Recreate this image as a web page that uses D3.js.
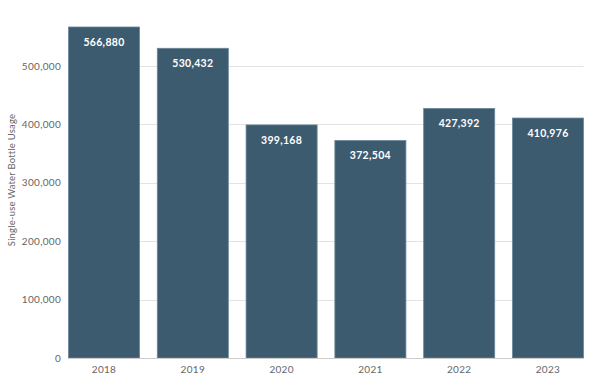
<!DOCTYPE html>
<html>
<head>
<meta charset="utf-8">
<script src="https://cdn.jsdelivr.net/npm/d3@7"></script>
<style>
  body { margin: 0; background: #fff; }
  svg text { font-family: Lato, "Open Sans", sans-serif; }
</style>
</head>
<body>
<script>
// data
var years = ["2018", "2019", "2020", "2021", "2022", "2023"];
var usage = [566880, 530432, 399168, 372504, 427392, 410976];
var yTicks = [0, 100000, 200000, 300000, 400000, 500000];

var svgWidth = 600, svgHeight = 384;

var svg = d3.select("body").append("svg")
    .attr("width", svgWidth)
    .attr("height", svgHeight);

var x = d3.scaleBand()
    .domain(years)
    .range([68.5, 583.5])
    .paddingInner(0.2)
    .paddingOuter(0);

var y = d3.scaleLinear()
    .domain([0, 566880])
    .range([358, 27]);

// gridlines
svg.append("g")
  .selectAll("line")
  .data(yTicks.filter(function(d) { return d > 0; }))
  .enter()
  .append("line")
    .attr("x1", 68.5)
    .attr("x2", 583.5)
    .attr("y1", function(d) { return Math.round(y(d)) + 0.5; })
    .attr("y2", function(d) { return Math.round(y(d)) + 0.5; })
    .style("stroke", "#e3e3e3")
    .style("stroke-width", 1);

// y axis labels
svg.append("g")
  .selectAll("text")
  .data(yTicks)
  .enter()
  .append("text")
    .attr("x", 61)
    .attr("y", function(d) { return y(d); })
    .attr("dy", "0.35em")
    .attr("text-anchor", "end")
    .style("font-size", "10px")
    .style("letter-spacing", "0.3px")
    .style("fill", "#666")
    .text(function(d) { return d3.format(",")(d); });

// axis title
svg.append("text")
    .attr("transform", "translate(15,180) rotate(-90)")
    .attr("text-anchor", "middle")
    .style("font-size", "9.5px")
    .style("letter-spacing", "0.2px")
    .style("fill", "#666")
    .text("Single-use Water Bottle Usage");

// bars
svg.append("g")
  .selectAll("rect")
  .data(years)
  .enter()
  .append("rect")
    .attr("x", function(d) { return x(d); })
    .attr("y", function(d, i) { return y(usage[i]); })
    .attr("width", x.bandwidth())
    .attr("height", function(d, i) { return y(0) - y(usage[i]); })
    .style("fill", "#3d5b6f")
    .style("stroke", "#6a8799")
    .style("stroke-width", 0.8);

// value labels
svg.append("g")
  .selectAll("text")
  .data(years)
  .enter()
  .append("text")
    .attr("x", function(d) { return x(d) + x.bandwidth() / 2; })
    .attr("y", function(d, i) { return y(usage[i]) + 19; })
    .attr("text-anchor", "middle")
    .style("font-size", "10.5px")
    .style("font-weight", "bold")
    .style("letter-spacing", "0.3px")
    .style("fill", "#fff")
    .text(function(d, i) { return d3.format(",")(usage[i]); });

// baseline
svg.append("line")
    .attr("x1", 68.5)
    .attr("x2", 583.5)
    .attr("y1", y(0) + 0.5)
    .attr("y2", y(0) + 0.5)
    .style("stroke", "#ccc");

// x labels
svg.append("g")
  .selectAll("text")
  .data(years)
  .enter()
  .append("text")
    .attr("x", function(d) { return x(d) + x.bandwidth() / 2; })
    .attr("y", 373)
    .attr("text-anchor", "middle")
    .style("font-size", "10px")
    .style("letter-spacing", "0.3px")
    .style("fill", "#666")
    .text(function(d) { return d; });
</script>
</body>
</html>
